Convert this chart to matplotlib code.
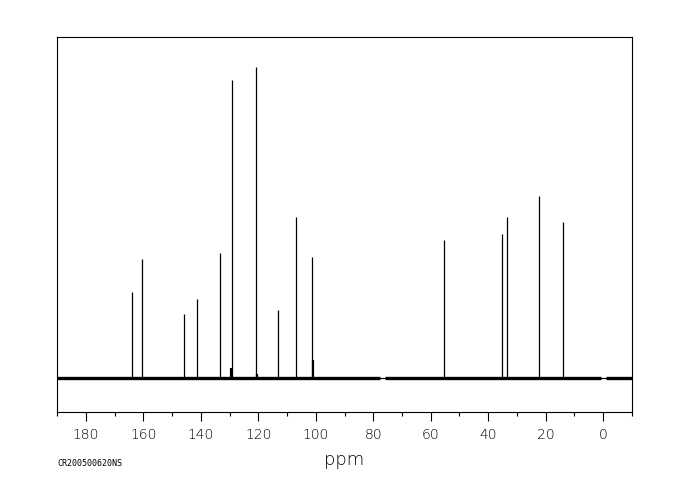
import matplotlib
matplotlib.use("Agg")
import matplotlib.pyplot as plt
from matplotlib.ticker import MultipleLocator

# picos (ppm) e intensidades relativas (maior = 100)
peak_ppm = [164.1, 160.6, 145.9, 141.4, 133.4, 129.1, 120.9, 113.1, 106.9, 101.4,
            55.4, 35.2, 33.6, 22.3, 13.9]
peak_int = [27.6, 38.3, 20.6, 25.4, 40.1, 95.9, 100.0, 21.9, 51.7, 38.8,
            44.4, 46.3, 51.9, 58.7, 50.3]

# picos pequenos perto da base
small_ppm = [129.4, 101.1, 120.6]
small_int = [3.1, 5.8, 1.2]

# trechos da linha de base com ruido (ppm inicial, ppm final)
base_start = [190.0, 76.0, -1.2]
base_end = [77.8, 0.6, -10.0]

fig = plt.figure(figsize=(6.8, 5.0), dpi=100)
ax = fig.add_axes([0.0843, 0.1754, 0.8447, 0.7506])

# linha de base fina em toda a largura
ax.plot([190, -10], [0, 0], color='black', linewidth=0.8)
# faixa de ruido
for a, b in zip(base_start, base_end):
    ax.plot([a, b], [0, 0], color='black', linewidth=2.4, solid_capstyle='butt')

ax.vlines(peak_ppm, 0, peak_int, color='black', linewidth=0.9)
ax.vlines(small_ppm, 0, small_int, color='black', linewidth=1.6)

ax.set_xlim(190, -10)
ax.set_ylim(-11.0, 109.7)
ax.set_yticks([])
ax.xaxis.set_major_locator(MultipleLocator(20))
ax.xaxis.set_minor_locator(MultipleLocator(10))
ax.tick_params(axis='x', which='major', direction='out', length=6.5, width=0.8,
               labelsize=10, pad=5, colors='black')
ax.tick_params(axis='x', which='minor', direction='out', length=3, width=0.8)
for lab in ax.get_xticklabels():
    lab.set_fontweight('light')
for s in ax.spines.values():
    s.set_linewidth(0.8)

ax.set_xlabel('ppm', fontsize=13, fontweight='light', labelpad=6)
fig.text(0.084, 0.072, 'CR200500620NS', fontsize=6, family='DejaVu Sans Mono',
         ha='left', va='center')

fig.savefig('out.png', dpi=100)
